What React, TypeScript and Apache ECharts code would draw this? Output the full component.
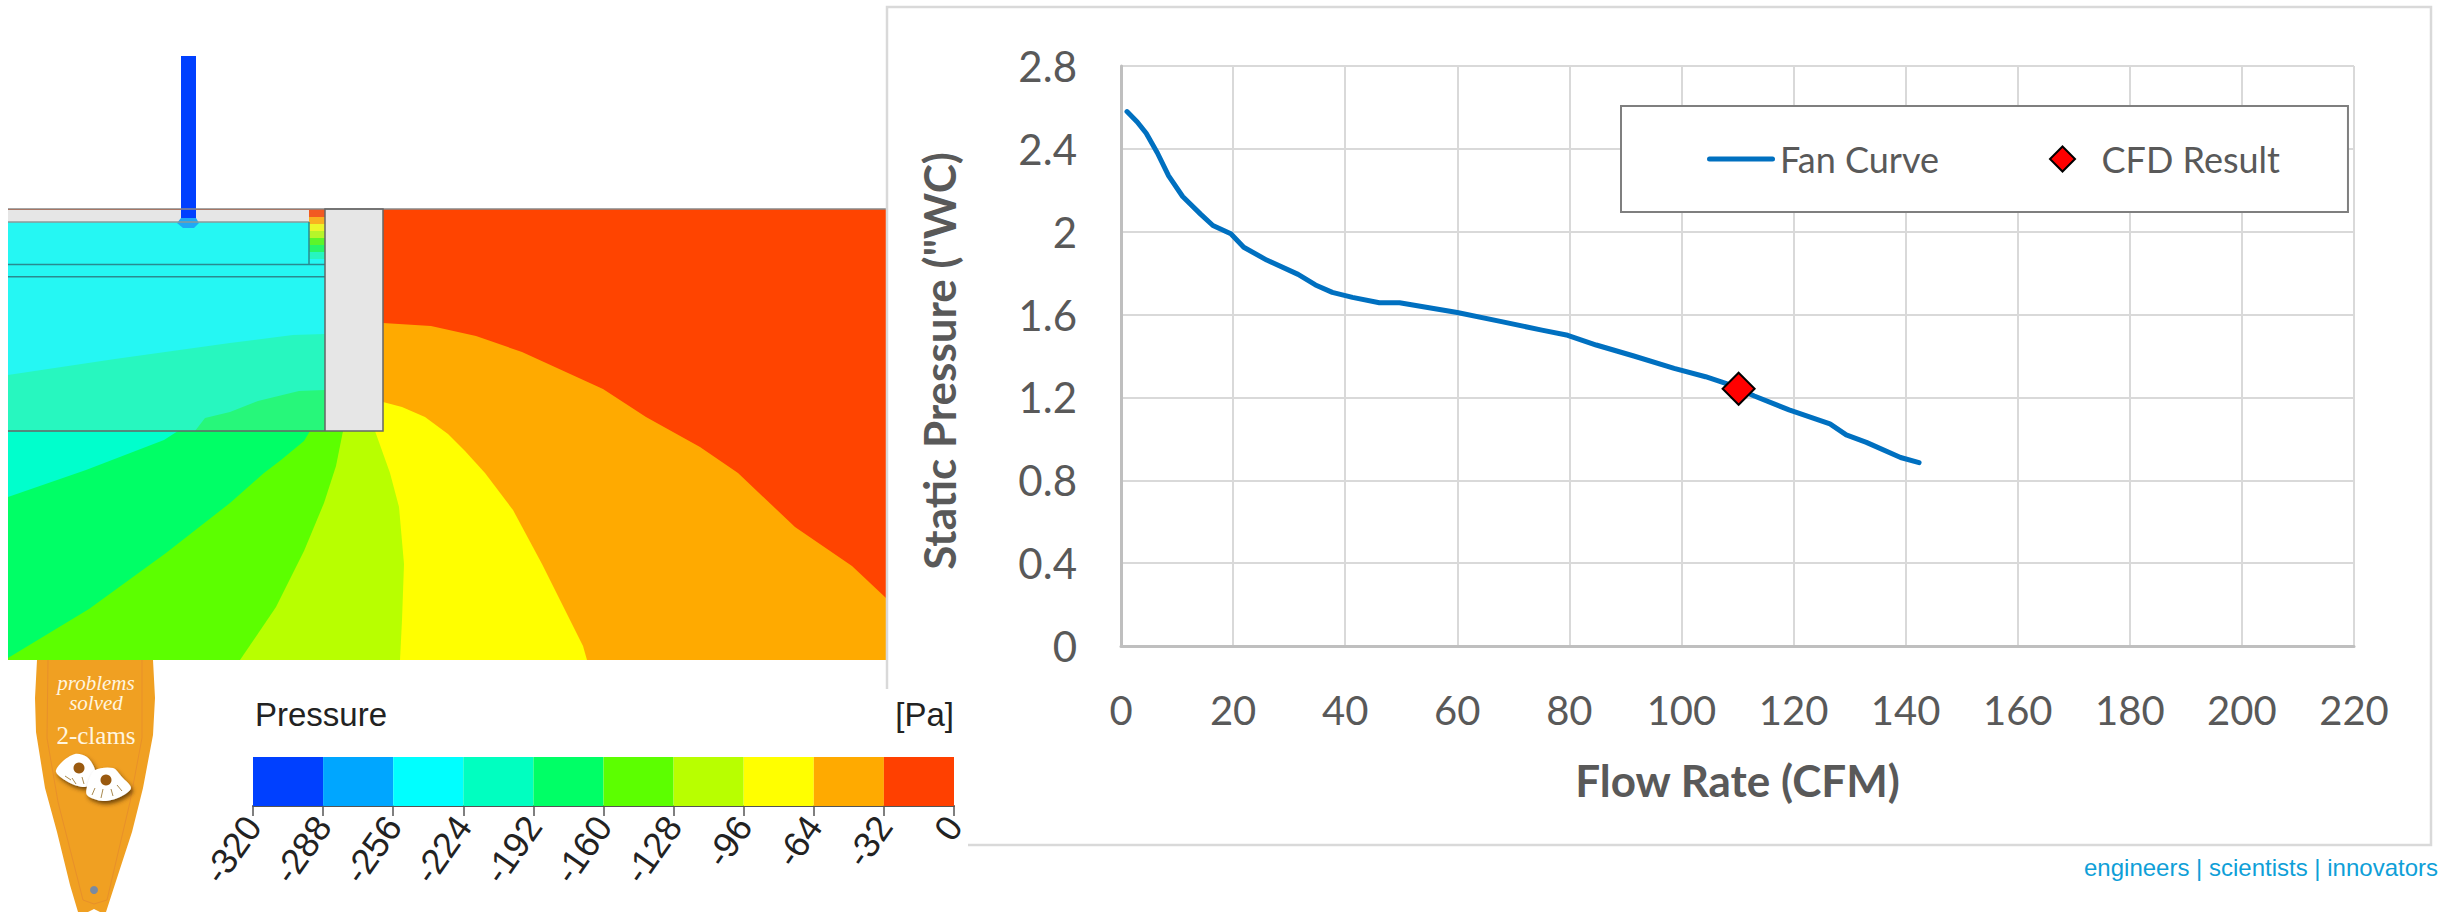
import React, { useEffect, useRef } from "react";
import * as echarts from "echarts";

// ---- Fan chart data
const fanFlow = [1.07, 2.9, 4.5, 6.5, 8.5, 11, 14.2, 16.4, 19.6, 21.9, 26, 31.6, 34.7, 37.7, 41.3, 46.1, 49.7, 60, 67.9, 75.1, 79.7, 84.8, 91.5, 98.7, 104.3, 107.9, 113, 119.2, 126.5, 129.4, 133, 139.1, 142.4];
const fanPressure = [2.58, 2.53, 2.475, 2.38, 2.27, 2.17, 2.085, 2.03, 1.99, 1.925, 1.863, 1.794, 1.743, 1.707, 1.683, 1.657, 1.657, 1.61, 1.566, 1.525, 1.5, 1.453, 1.4, 1.34, 1.3, 1.268, 1.207, 1.14, 1.072, 1.019, 0.983, 0.91, 0.885];
const cfdResult = [110.2, 1.242];

// ---- Colour scale
const scaleTicks = [-320, -288, -256, -224, -192, -160, -128, -96, -64, -32, 0];
const scaleColors = ["#0040ff", "#00a6ff", "#00ffff", "#00ffc0", "#00ff66", "#5cff00", "#b8ff00", "#ffff00", "#ffaa00", "#ff4000"];

// ---- Contour picture: closed outlines in the picture's own pixel frame
const redField = [[8, 209], [886, 209], [886, 660], [8, 660]];
const orangeBand = [[383, 323], [431, 326], [476, 336], [522, 352], [603, 389], [646, 417], [700, 447], [738, 473], [795, 527], [852, 566], [886, 598], [886, 660], [8, 660], [8, 323]];
const yellowBand = [[383, 402], [402, 407], [425, 417], [448, 434], [465, 451], [485, 473], [513, 510], [542, 564], [583, 646], [587, 660], [8, 660], [8, 402]];
const limeBand = [[375, 431], [390, 473], [399, 507], [404, 564], [402, 620], [400, 660], [8, 660], [8, 431]];
const greenBand = [[343, 431], [336, 466], [324, 503], [304, 551], [276, 607], [240, 660], [8, 660], [8, 431]];
const springBand = [[310, 431], [304, 441], [281, 460], [264, 473], [230, 503], [166, 553], [89, 609], [8, 658], [8, 431]];
const aquaBand = [[178, 431], [164, 440], [86, 470], [8, 497], [8, 431]];
const wallPanel = [[325, 209], [383, 209], [383, 431], [325, 431]];
const topStrip = [[8, 210], [309, 210], [309, 222], [8, 222]];
const tankCyan = [[8, 222], [325, 222], [325, 431], [8, 431]];
const tankAqua = [[8, 375], [115, 359], [230, 343], [293, 335], [325, 334], [325, 431], [8, 431]];
const tankGreen = [[195, 431], [205, 418], [230, 412], [258, 401], [299, 391], [325, 390], [325, 431]];
const stripRed = [[309, 210], [325, 210], [325, 217], [309, 217]];
const stripOrange = [[309, 217], [325, 217], [325, 224], [309, 224]];
const stripYellow = [[309, 224], [325, 224], [325, 231], [309, 231]];
const stripLime = [[309, 231], [325, 231], [325, 238], [309, 238]];
const stripGreen = [[309, 238], [325, 238], [325, 245], [309, 245]];
const stripSpring = [[309, 245], [325, 245], [325, 252], [309, 252]];
const stripAqua = [[309, 252], [325, 252], [325, 259], [309, 259]];
const probeTube = [[181, 56], [196, 56], [196, 222], [181, 222]];
const probeTip = [[181, 218], [196, 218], [199, 223], [194, 228], [183, 228], [177, 223]];
const ribbon = [[37, 660], [153, 660], [155, 698], [153, 735], [143, 788], [132, 832], [117, 878], [106, 912], [100, 912], [94, 909], [88, 912], [78, 912], [70, 885], [57, 832], [45, 788], [36, 732], [35, 698]];
const ribbonSeam = [[48, 660], [47, 738], [58, 802], [83, 900], [94, 904], [107, 900], [130, 802], [142, 738], [142, 660]];
const clamLeft = [[75, 754], [87, 757], [95, 770], [92, 782], [85, 787], [70, 783], [56, 772], [62, 762]];
const clamRight = [[95, 770], [113, 768], [122, 777], [131, 788], [120, 797], [103, 801], [87, 795], [88, 783]];
const clamRibs = [
  [[65, 776], [71, 780]],
  [[72, 778], [76, 784]],
  [[82, 777], [84, 784]],
  [[95, 788], [92, 795]],
  [[103, 789], [101, 798]],
  [[111, 789], [113, 796]],
  [[117, 785], [122, 791]],
];

const areas = [
  { points: redField, color: "#ff4400" },
  { points: orangeBand, color: "#ffaa00" },
  { points: yellowBand, color: "#ffff00" },
  { points: limeBand, color: "#b8ff00" },
  { points: greenBand, color: "#5cff00" },
  { points: springBand, color: "#00ff66" },
  { points: aquaBand, color: "#00ffcc" },
  { points: tankCyan, color: "#25f7f3" },
  { points: tankAqua, color: "#27f7bf" },
  { points: tankGreen, color: "#27f77a" },
  { points: topStrip, color: "#e6e6e6" },
  { points: stripRed, color: "#f25a22" },
  { points: stripOrange, color: "#f9b020" },
  { points: stripYellow, color: "#ecf52a" },
  { points: stripLime, color: "#b7f52a" },
  { points: stripGreen, color: "#5cf52a" },
  { points: stripSpring, color: "#27f567" },
  { points: stripAqua, color: "#27f5c0" },
  { points: wallPanel, color: "#e6e6e6" },
  { points: probeTube, color: "#0040ff" },
  { points: probeTip, color: "#1fa8f5" },
  { points: ribbon, color: "#f0a022" },
];

const outlines = [
  { points: [[8, 209], [886, 209]], color: "#888888", width: 1.5 },
  { points: [[8, 222], [309, 222]], color: "#8a9a9a", width: 1.5 },
  { points: [[8, 264.5], [325, 264.5]], color: "#2a8a90", width: 1.5 },
  { points: [[8, 276.7], [325, 276.7]], color: "#2a8a90", width: 1.5 },
  { points: [[309, 222], [309, 264.5]], color: "#2a8a90", width: 1.5 },
  { points: [[8, 431], [383, 431], [383, 209], [325, 209], [325, 431]], color: "#666666", width: 1.5 },
  { points: [[887, 689], [887, 7], [2431, 7], [2431, 845], [968, 845]], color: "#d9d9d9", width: 2.5 },
  { points: ribbonSeam, color: "#e8902a", width: 1 },
];

const EngLine = "engineers | scientists | innovators";
const legendBar = "path://M2.5,0 L65.5,0 A2.5,2.5 0 0 1 65.5,5 L2.5,5 A2.5,2.5 0 0 1 2.5,0 Z";
const legendDiamond = "path://M0,-1 L1,0 L0,1 L-1,0 Z";

export default function App() {
  const ref = useRef<HTMLDivElement>(null);
  useEffect(() => {
    const chart = echarts.init(ref.current!, null, { renderer: "svg" });
    const labelColor = "#595959";
    const chartFont = "Lato";
    const clamStyle = { fill: "#ffffff", shadowColor: "rgba(70,40,0,.75)", shadowBlur: 4, shadowOffsetX: 2, shadowOffsetY: 3 };
    const option: any = {
      animation: false,
      backgroundColor: "#ffffff",
      legend: {
        left: 1621,
        top: 106,
        orient: "horizontal",
        padding: [35, 68, 35, 86],
        itemGap: 110,
        itemWidth: 68,
        itemHeight: 25,
        borderColor: "#7f7f7f",
        borderWidth: 2,
        backgroundColor: "#ffffff",
        textStyle: { fontFamily: chartFont, fontSize: 36, color: labelColor },
        data: [
          { name: "Fan Curve", icon: legendBar },
          { name: "CFD Result", icon: legendDiamond },
        ],
      },
      grid: [
        { left: 1121, top: 66, width: 1233, height: 580 },
        { left: 0, top: 0, width: 2438, height: 912 },
        { left: 253, top: 757, width: 701, height: 49 },
      ],
      xAxis: [
        {
          type: "value", gridIndex: 0, min: 0, max: 220, interval: 20,
          axisLine: { show: true, lineStyle: { color: "#bfbfbf", width: 3 } },
          axisTick: { show: false },
          splitLine: { show: true, lineStyle: { color: "#d9d9d9", width: 2 } },
          axisLabel: { fontFamily: chartFont, fontSize: 40, color: labelColor, margin: 44 },
          name: "Flow Rate (CFM)", nameLocation: "middle", nameGap: 112,
          nameTextStyle: { fontFamily: chartFont, fontSize: 44, fontWeight: "bold", color: labelColor },
        },
        { type: "value", gridIndex: 1, min: 0, max: 2438, show: false },
        {
          type: "value", gridIndex: 2, min: -320, max: 0, interval: 32,
          axisLine: { show: true, lineStyle: { color: "#555555", width: 2 } },
          axisTick: { show: true, length: 10, lineStyle: { color: "#555555", width: 1.5 } },
          splitLine: { show: false },
          axisLabel: { rotate: 55, fontFamily: "Liberation Sans", fontSize: 36, color: "#222222", margin: 14 },
        },
      ],
      yAxis: [
        {
          type: "value", gridIndex: 0, min: 0, max: 2.8, interval: 0.4,
          axisLine: { show: true, lineStyle: { color: "#bfbfbf", width: 3 } },
          axisTick: { show: false },
          splitLine: { show: true, lineStyle: { color: "#d9d9d9", width: 2 } },
          axisLabel: { fontFamily: chartFont, fontSize: 42, color: labelColor, margin: 44 },
          name: 'Static Pressure ("WC)', nameLocation: "middle", nameGap: 160,
          nameTextStyle: { fontFamily: chartFont, fontSize: 44, fontWeight: "bold", color: labelColor, padding: [0, 10, 0, 0] },
        },
        { type: "value", gridIndex: 1, min: 0, max: 912, inverse: true, show: false },
        { type: "value", gridIndex: 2, min: 0, max: 1, show: false },
      ],
      series: [
        {
          type: "custom", xAxisIndex: 1, yAxisIndex: 1, z: 1, silent: true, clip: false,
          data: areas.map((_, i) => [i, i]),
          renderItem: (p: any, api: any) => ({
            type: "polygon",
            shape: { points: areas[p.dataIndex].points.map((q) => api.coord(q)) },
            style: { fill: areas[p.dataIndex].color },
          }),
        },
        {
          type: "custom", xAxisIndex: 1, yAxisIndex: 1, z: 2, silent: true, clip: false,
          data: outlines.map((_, i) => [i, i]),
          renderItem: (p: any, api: any) => ({
            type: "polyline",
            shape: { points: outlines[p.dataIndex].points.map((q) => api.coord(q)) },
            style: { stroke: outlines[p.dataIndex].color, lineWidth: outlines[p.dataIndex].width, fill: "none" },
          }),
        },
        {
          type: "custom", xAxisIndex: 2, yAxisIndex: 2, z: 2, silent: true, clip: false,
          data: scaleColors.map((_, i) => [scaleTicks[i], scaleTicks[i + 1]]),
          renderItem: (p: any, api: any) => {
            const a = api.coord([api.value(0), 1]);
            const b = api.coord([api.value(1), 0]);
            return {
              type: "rect",
              shape: { x: a[0], y: a[1], width: b[0] - a[0], height: b[1] - a[1] },
              style: { fill: scaleColors[p.dataIndex] },
            };
          },
        },
        {
          name: "Fan Curve", type: "line", xAxisIndex: 0, yAxisIndex: 0, z: 5,
          data: fanFlow.map((x, i) => [x, fanPressure[i]]),
          showSymbol: false, symbol: "none", smooth: false,
          lineStyle: { color: "#0070c0", width: 5, cap: "round", join: "round" },
          itemStyle: { color: "#0070c0" },
        },
        {
          name: "CFD Result", type: "scatter", xAxisIndex: 0, yAxisIndex: 0, z: 6,
          data: [cfdResult], symbol: "diamond", symbolSize: 32,
          itemStyle: { color: "#ff0000", borderColor: "#000000", borderWidth: 2, opacity: 1 },
        },
      ],
      graphic: [
        { type: "text", z: 10, x: 255, y: 714, style: { text: "Pressure", fontFamily: "Liberation Sans", fontSize: 33, fill: "#222222", verticalAlign: "middle" } },
        { type: "text", z: 10, x: 954, y: 714, style: { text: "[Pa]", fontFamily: "Liberation Sans", fontSize: 33, fill: "#222222", align: "right", verticalAlign: "middle" } },
        { type: "text", z: 10, x: 2438, y: 867, style: { text: EngLine, fontFamily: "Liberation Sans", fontSize: 24, fill: "#0f9fd8", align: "right", verticalAlign: "middle" } },
        { type: "text", z: 10, x: 96, y: 683, style: { text: "problems", fontFamily: "Liberation Serif", fontStyle: "italic", fontSize: 21, fill: "#fff6e0", align: "center", verticalAlign: "middle" } },
        { type: "text", z: 10, x: 96, y: 703, style: { text: "solved", fontFamily: "Liberation Serif", fontStyle: "italic", fontSize: 21, fill: "#fff6e0", align: "center", verticalAlign: "middle" } },
        { type: "text", z: 10, x: 96, y: 735, style: { text: "2-clams", fontFamily: "Liberation Serif", fontSize: 25, fill: "#fff6e0", align: "center", verticalAlign: "middle" } },
        { type: "polygon", z: 10, shape: { points: clamLeft, smooth: 0.3 }, style: clamStyle },
        { type: "polygon", z: 10, shape: { points: clamRight, smooth: 0.3 }, style: clamStyle },
        { type: "circle", z: 11, shape: { cx: 79, cy: 768, r: 5.5 }, style: { fill: "#9a5a10" } },
        { type: "circle", z: 11, shape: { cx: 106, cy: 780, r: 5.5 }, style: { fill: "#9a5a10" } },
        ...clamRibs.map((r) => ({
          type: "line", z: 11,
          shape: { x1: r[0][0], y1: r[0][1], x2: r[1][0], y2: r[1][1] },
          style: { stroke: "#a98a50", lineWidth: 1 },
        })),
        { type: "circle", z: 11, shape: { cx: 94, cy: 890, r: 4 }, style: { fill: "#7a8aa0" } },
      ],
    };
    chart.setOption(option);
    return () => chart.dispose();
  }, []);
  return <div ref={ref} style={{ position: "fixed", left: 0, top: 0, width: 2438, height: 912 }} />;
}
